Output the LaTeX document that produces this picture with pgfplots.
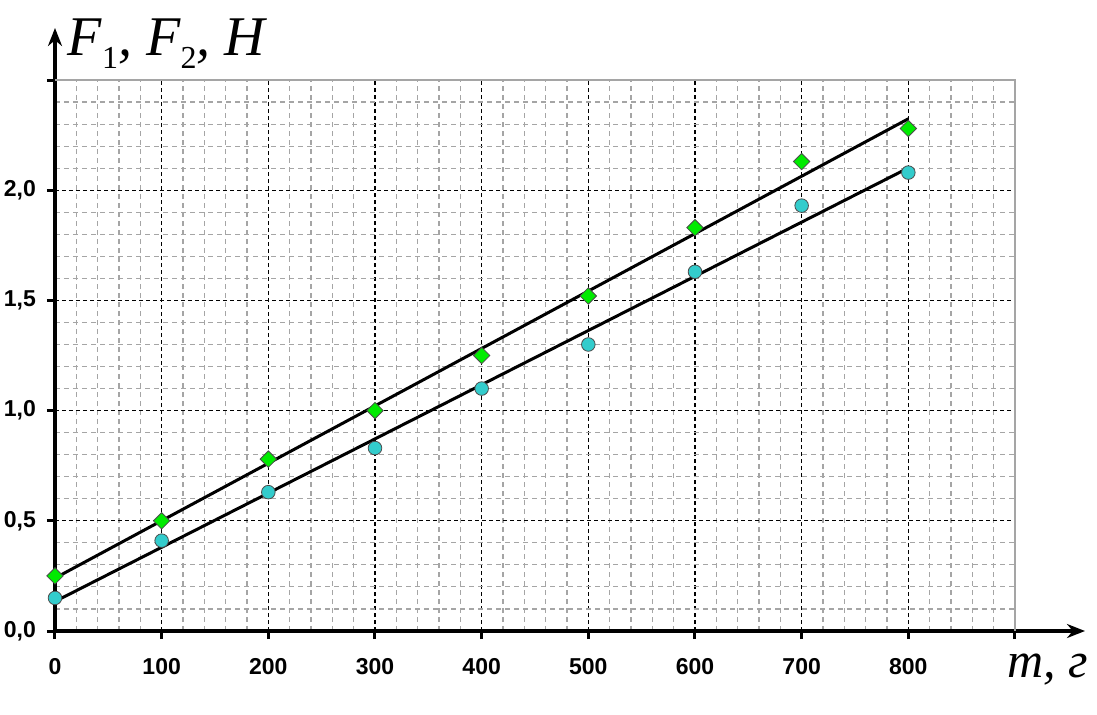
\documentclass[border=0pt]{standalone}
\usepackage{fontspec}
\setmainfont{Liberation Sans}
\newfontfamily\tnr{Liberation Serif}
\usepackage{pgfplots}
\pgfplotsset{compat=1.18}
\usetikzlibrary{arrows.meta}
\definecolor{mgreen}{RGB}{0,235,0}
\definecolor{mcyan}{RGB}{51,204,204}
\definecolor{mgrid}{RGB}{165,165,165}
\begin{document}
\begin{tikzpicture}
\useasboundingbox (-27.5pt,-41.5pt) rectangle (521pt,315.5pt);
\begin{axis}[
  at={(0,0)}, anchor=south west,
  scale only axis, width=480pt, height=275.5pt,
  xmin=0, xmax=900, ymin=0, ymax=2.5,
  clip=false,
  axis lines=left,
  axis line style={line width=2pt, -{Stealth[length=9pt,width=7pt]}},
  x axis line style={shorten >=-35pt},
  y axis line style={shorten >=-26pt},
  xtick={0,100,...,900},
  xticklabels={0,100,200,300,400,500,600,700,800,{}},
  ytick={0,0.5,1,1.5,2,2.5},
  yticklabels={{0,0},{0,5},{1,0},{1,5},{2,0},{}},
  minor x tick num=4, minor y tick num=4,
  tick align=outside,
  major tick length=4pt, minor tick length=0pt,
  major tick style={line width=1.5pt, black},
  grid=both,
  major grid style={black, line width=0.6pt, dash pattern=on 2pt off 1.5pt},
  minor grid style={mgrid, line width=0.55pt, dash pattern=on 2.5pt off 2pt},
  ticklabel style={font=\fontsize{11.5}{11.5}\selectfont\bfseries},
  xticklabel style={yshift=-6pt},
  yticklabel style={xshift=-2pt},
]
\draw[mgrid, line width=0.8pt] (axis cs:0,2.5) -- (axis cs:900,2.5) -- (axis cs:900,0);
\addplot[black, line width=1.5pt] coordinates {(0,0.240) (800,2.324)};
\addplot[black, line width=1.5pt] coordinates {(0,0.134) (800,2.101)};
\addplot[only marks, mark=square*, mark size=2.9pt, mark options={rotate=45, fill=mgreen, draw=black!70, line width=0.4pt}]
  coordinates {(0,0.25) (100,0.50) (200,0.78) (300,1.00) (400,1.25) (500,1.52) (600,1.83) (700,2.13) (800,2.28)};
\addplot[only marks, mark=*, mark size=3.4pt, mark options={fill=mcyan, draw=black!70, line width=0.4pt}]
  coordinates {(0,0.15) (100,0.41) (200,0.63) (300,0.83) (400,1.10) (500,1.30) (600,1.63) (700,1.93) (800,2.08)};
\node[anchor=base west, inner sep=0pt, font=\tnr\fontsize{28}{28}\selectfont] at (axis cs:11.25,2.613)
  {\textit{F}\raisebox{-6.5pt}{\fontsize{16}{16}\selectfont 1}\textit{, F}\raisebox{-6.5pt}{\fontsize{16}{16}\selectfont 2}\textit{, H}};
\node[anchor=base west, inner sep=0pt, font=\tnr\fontsize{25}{25}\selectfont\itshape] at (axis cs:892.5,-0.213) {m, г};
\end{axis}
\end{tikzpicture}
\end{document}
